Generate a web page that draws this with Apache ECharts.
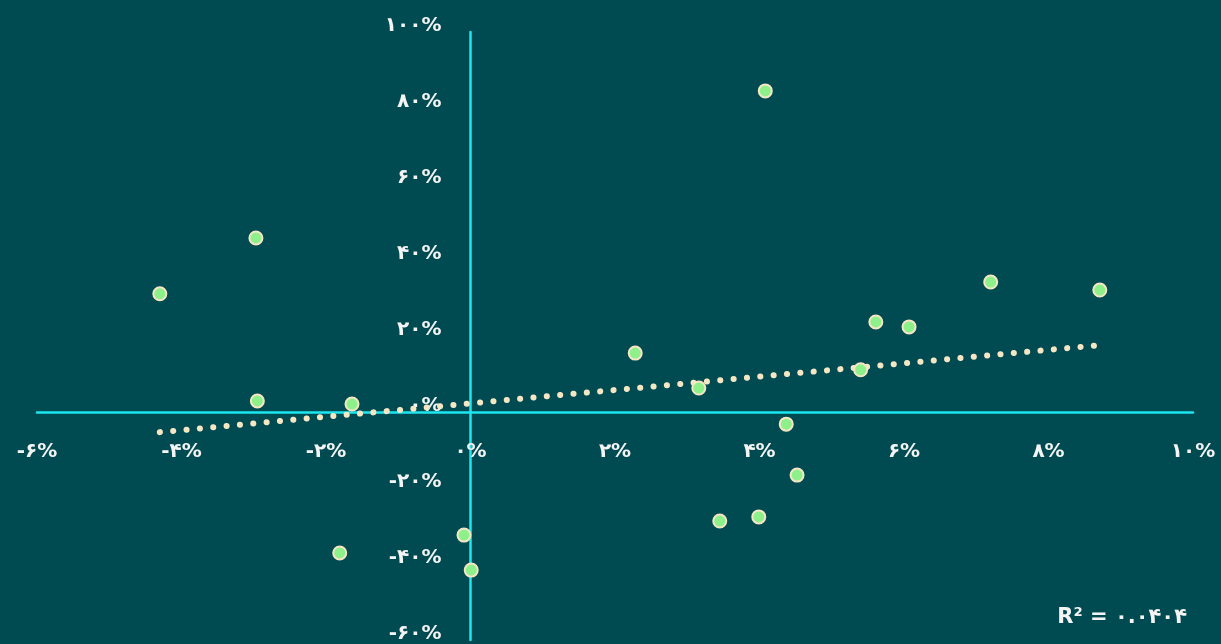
<!DOCTYPE html>
<html>
<head>
<meta charset="utf-8">
<script src="https://cdn.jsdelivr.net/npm/echarts@6/dist/echarts.min.js"></script>
<style>
  html, body { margin: 0; padding: 0; background: #004a52; }
  #chart { width: 1221px; height: 644px; }
</style>
</head>
<body>
<div id="chart"></div>
<script>
// return (x, %) vs change (y, %)
const xValues = [-4.30, -2.97, -2.95, -1.64, -1.81, -0.09, 0.01, 2.28, 3.16, 3.45, 3.99, 4.08, 4.37, 4.52, 5.40, 5.61, 6.07, 7.20, 8.71]
const yValues = [31.1, 45.8, 2.9, 2.1, -37.1, -32.4, -41.6, 15.5, 6.3, -28.7, -27.6, 84.5, -3.2, -16.6, 11.1, 23.7, 22.4, 34.2, 32.1]

// trend line end points
const trendX = [-4.30, 8.71]
const trendY = [-5.3, 17.6]

const r2Label = 'R² = ۰.۰۴۰۴'

const faDigits = '۰۱۲۳۴۵۶۷۸۹'
const toFa = (v) => String(v).replace(/\d/g, (d) => faDigits[d]) + '%'

const chart = echarts.init(document.getElementById('chart'))

const points = xValues.map((x, i) => [x, yValues[i]])
const trend = trendX.map((x, i) => [x, trendY[i]])

const fontStack = 'DejaVu Sans'

const labelFont = {
  color: '#f4f4f4',
  fontSize: 20,
  fontWeight: 'bold',
  fontFamily: fontStack,
}

// grid: left 37, right 28, top 32, bottom 4 -> zero of x at 470.5px, zero of y at 412px
// the axes are pulled onto the zero lines with offset so their labels follow them
chart.setOption({
  backgroundColor: '#004a52',
  animation: false,
  grid: { left: 37, right: 28, top: 32, bottom: 4, containLabel: false, outerBoundsMode: 'none' },
  xAxis: {
    type: 'value',
    position: 'bottom',
    offset: -228,
    min: -6,
    max: 10,
    interval: 2,
    axisLine: { onZero: false, lineStyle: { color: '#1ee6ee', width: 2.5 } },
    axisTick: { show: false },
    splitLine: { show: false },
    axisLabel: { ...labelFont, margin: 30, formatter: toFa },
  },
  yAxis: {
    type: 'value',
    position: 'left',
    offset: -433.5,
    min: -60,
    max: 100,
    interval: 20,
    axisLine: { onZero: false, lineStyle: { color: '#1ee6ee', width: 2.5 } },
    axisTick: { show: false },
    splitLine: { show: false },
    axisLabel: { ...labelFont, margin: 29, verticalAlign: 'bottom', lineHeight: 12, formatter: toFa },
  },
  series: [
    {
      type: 'line',
      data: trend,
      symbol: 'none',
      silent: true,
      z: 1,
      lineStyle: { color: '#f5e6c4', width: 6, type: [0.1, 13.3], cap: 'round' },
    },
    {
      type: 'scatter',
      data: points,
      symbolSize: 13,
      z: 3,
      itemStyle: { color: '#8ef08a', borderColor: '#f5e6c4', borderWidth: 2, opacity: 1 },
    },
  ],
  graphic: [
    {
      type: 'text',
      right: 34,
      top: 607,
      style: {
        text: r2Label,
        fill: '#f4f4f4',
        fontSize: 21,
        fontWeight: 'bold',
        fontFamily: fontStack,
      },
    },
  ],
})
</script>
</body>
</html>
